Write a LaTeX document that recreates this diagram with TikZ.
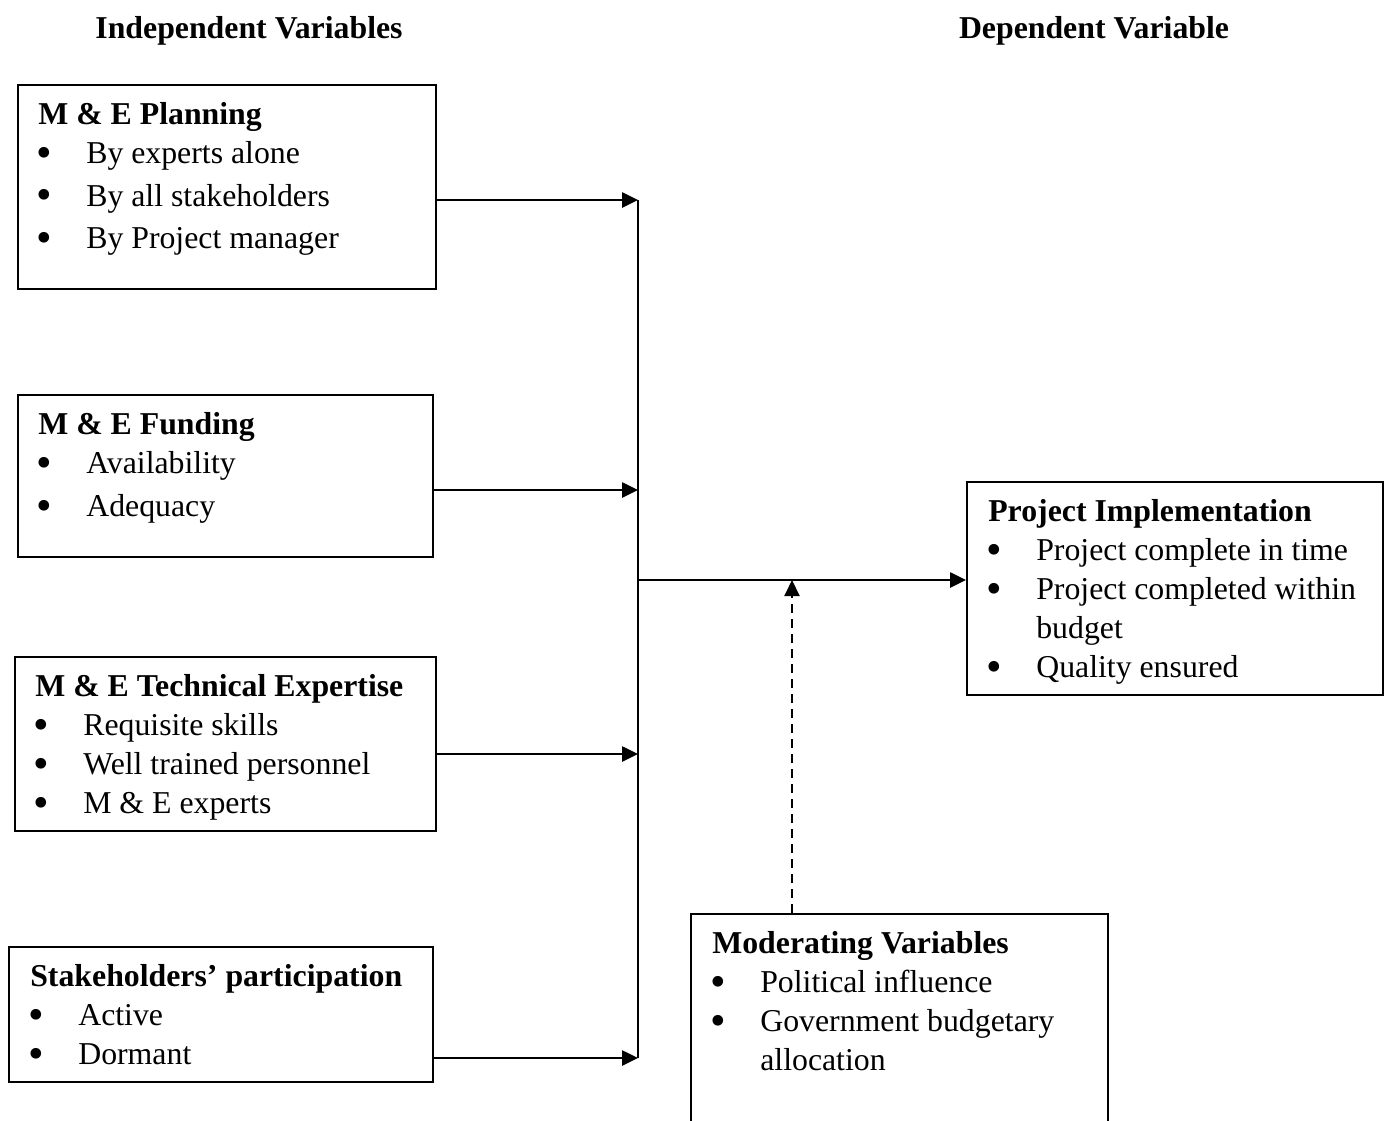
\documentclass[tikz,border=0pt]{standalone}
\usepackage{fontspec}
\setmainfont{Liberation Serif}
\usepackage{graphicx}
\usepackage{tikz}
\usetikzlibrary{arrows.meta,calc}

\newcommand{\itm}[2][0pt]{\par\vspace{#1}\hangindent=48pt\hangafter=1\noindent\hbox to 48pt{\hspace{-1.5pt}\smash{\raisebox{-3.5pt}{\scalebox{1.4}{\textbullet}}}\hfill}#2\par}

\begin{document}
\begin{tikzpicture}[x=1pt,y=-1pt,>={Triangle[length=16pt,width=15pt]},line width=2.6pt,
  varbox/.style={draw,line width=2pt,anchor=north west,inner sep=0pt},
  vartext/.style={anchor=north west,align=flush left,inner xsep=20pt,inner ysep=12pt,text width=#1,font=\fontsize{31.8}{39}\selectfont},
  head/.style={font=\fontsize{31.8}{39}\selectfont\bfseries}]
\useasboundingbox (0,0) rectangle (1387,1121);
\clip (0,0) rectangle (1387,1121);

\node[head] (indep) at (249,31) {Independent Variables};
\node[head] (dep) at (1094,31) {Dependent Variable};

\node[varbox,minimum width=418pt,minimum height=204pt] (plan) at (17,84) {};
\node[vartext=378pt] (plantxt) at (plan.north west) {\strut\textbf{M \& E Planning}\itm{By experts alone}\itm[3.5pt]{By all stakeholders}\itm[3.5pt]{By Project manager}};

\node[varbox,minimum width=415pt,minimum height=162pt] (fund) at (17,394) {};
\node[vartext=375pt] (fundtxt) at (fund.north west) {\strut\textbf{M \& E Funding}\itm{Availability}\itm[4pt]{Adequacy}};

\node[varbox,minimum width=421pt,minimum height=174pt] (tech) at (14,656) {};
\node[vartext=390pt] (techtxt) at (tech.north west) {\strut\textbf{M \& E Technical Expertise}\itm{Requisite skills}\itm{Well trained personnel}\itm{M \& E experts}};

\node[varbox,minimum width=424pt,minimum height=135pt] (stake) at (8,946) {};
\node[vartext=390pt,inner xsep=21pt] (staketxt) at (stake.north west) {\strut\textbf{Stakeholders’ participation}\itm{Active}\itm{Dormant}};

\node[varbox,minimum width=416pt,minimum height=213pt] (proj) at (966,481) {};
\node[vartext=374pt,inner xsep=21pt] (projtxt) at (proj.north west) {\strut\textbf{Project Implementation}\itm{Project complete in time}\itm{Project completed within budget}\itm{Quality ensured}};

\node[varbox,minimum width=417pt,minimum height=240pt] (mod) at (690,913) {};
\node[vartext=375pt,inner xsep=21pt] (modtxt) at (mod.north west) {\strut\textbf{Moderating Variables}\itm{Political influence}\itm{Government budgetary allocation}};

% junction points on the collecting line
\coordinate (j1) at (638,200);
\coordinate (j2) at (638,490);
\coordinate (j3) at (638,754);
\coordinate (j4) at (638,1058);
\coordinate (jm) at (638,580);
\coordinate (jd) at (792,580);

\path[->] (plan.east |- j1) edge (j1);
\path[->] (fund.east |- j2) edge (j2);
\path[->] (tech.east |- j3) edge (j3);
\path[->] (stake.east |- j4) edge (j4);
\draw (j1) -- (j4);
\path[->] (jm) edge (proj.west |- jm);
\path[->,line width=2pt,dash pattern=on 9pt off 6pt] (mod.north -| jd) edge (jd);
\end{tikzpicture}
\end{document}
